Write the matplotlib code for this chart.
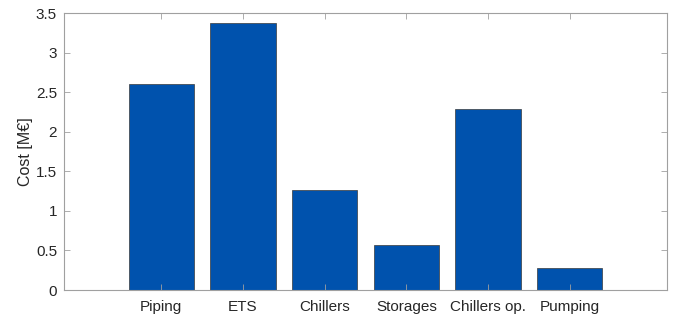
import matplotlib
matplotlib.use("Agg")
import matplotlib.pyplot as plt

categorias = ["Piping", "ETS", "Chillers", "Storages", "Chillers op.", "Pumping"]
costes = [2.60, 3.38, 1.26, 0.57, 2.29, 0.28]
y_ticks = [0, 0.5, 1, 1.5, 2, 2.5, 3, 3.5]
y_labels = ["0", "0.5", "1", "1.5", "2", "2.5", "3", "3.5"]

plt.rcParams["font.family"] = ["Liberation Sans", "DejaVu Sans"]

fig = plt.figure(figsize=(6.76, 3.18), dpi=100)
ax = fig.add_axes([0.0947, 0.088, 0.892, 0.871])

x = list(range(1, len(categorias) + 1))
ax.bar(x, costes, width=0.8, color="#0052AD", edgecolor="#3a3a3a", linewidth=0.5)

ax.set_xlim(-0.19, 7.19)
ax.set_ylim(0, 3.5)
ax.set_xticks(x)
ax.set_xticklabels(categorias)
ax.set_yticks(y_ticks)
ax.set_yticklabels(y_labels)
ax.set_ylabel("Cost [M€]", fontsize=11.5, color="#262626", labelpad=2)

for s in ax.spines.values():
    s.set_color("#a0a0a0")
    s.set_linewidth(0.8)
ax.tick_params(direction="in", length=4, width=0.6, color="#a0a0a0",
               top=True, right=True, labelsize=11, labelcolor="#262626", pad=5)
ax.tick_params(axis="x", pad=7)

fig.savefig("out.png", dpi=100)
